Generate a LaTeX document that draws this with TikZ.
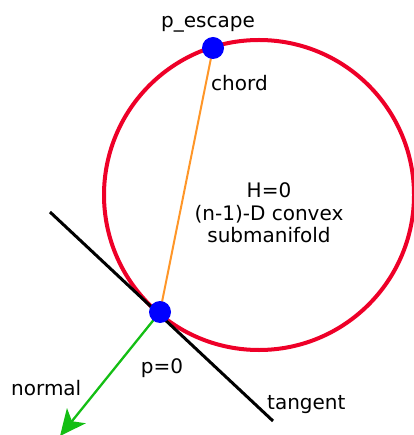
\documentclass[tikz,border=0pt]{standalone}
\usepackage{fontspec}
\setmainfont{DejaVu Sans}
\usetikzlibrary{arrows.meta}
\definecolor{cred}{RGB}{238,0,40}
\definecolor{cblue}{RGB}{0,0,255}
\definecolor{corange}{RGB}{255,150,40}
\definecolor{cgreen}{RGB}{20,190,20}
\begin{document}
\begin{tikzpicture}[x=1pt,y=-1pt,
  lbl/.style={font=\fontsize{20}{22.5}\selectfont, inner sep=0pt},
  dot/.style={circle, fill=cblue, minimum size=22pt, inner sep=0pt},
]
\useasboundingbox (0,0) rectangle (413,435);
% circle
\draw[cred, line width=4pt] (259,195) circle[radius=155];
% points
\coordinate (esc) at (213,48);
\coordinate (pz) at (160,312);
\coordinate (tA) at (50,212);
\coordinate (tB) at (273,421);
\coordinate (nE) at (60,436);
% chord
\draw[corange, line width=2pt] (esc) -- (pz);
% tangent
\draw[black, line width=3pt] (tA) -- (tB);
% normal
\draw[cgreen, line width=2.3pt, -{Stealth[length=26pt,width=24pt,inset=7pt]}] (pz) -- (nE);
% dots
\node[dot] (pesc) at (esc) {};
\node[dot] (p0) at (pz) {};
% labels
\node[lbl, anchor=base] (lesc) at (208,28) {p\_escape};
\node[lbl, anchor=base west] (lchord) at (211,91) {chord};
\node[lbl, align=center] (lmid) at (269,213) {H=0\\(n-1)-D convex\\submanifold};
\node[lbl, anchor=base] (lp0) at (162,373) {p=0};
\node[lbl, anchor=base west] (lnormal) at (11,395) {normal};
\node[lbl, anchor=base west] (ltan) at (267,409) {tangent};
\end{tikzpicture}
\end{document}
